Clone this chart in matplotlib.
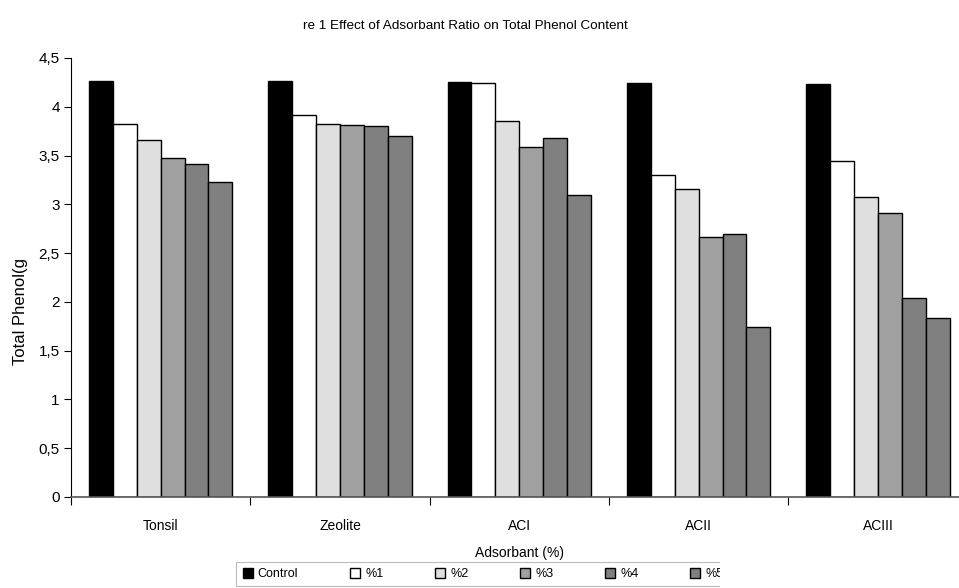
import numpy as np
import matplotlib.pyplot as plt
from matplotlib.patches import Rectangle

plt.rcParams['font.family'] = ['Liberation Sans', 'DejaVu Sans']

# Total phenol per adsorbent and adsorbent ratio
adsorbents = ['Tonsil', 'Zeolite', 'ACI', 'ACII', 'ACIII']
tick_labels = ['Tonsil', 'Zeolite', 'ACI', 'ACII', 'ACIII']
series_names = ['Control', '%1', '%2', '%3', '%4', '%5']
control = [4.26, 4.26, 4.25, 4.24, 4.23]
ratio_1 = [3.82, 3.92, 4.24, 3.30, 3.44]
ratio_2 = [3.66, 3.82, 3.85, 3.16, 3.08]
ratio_3 = [3.47, 3.81, 3.59, 2.67, 2.91]
ratio_4 = [3.41, 3.80, 3.68, 2.70, 2.04]
ratio_5 = [3.23, 3.70, 3.10, 1.74, 1.83]

series = [control, ratio_1, ratio_2, ratio_3, ratio_4, ratio_5]
colors = ['#000000', '#ffffff', '#dfdfdf', '#a0a0a0', '#808080', '#808080']

fig = plt.figure(figsize=(9.59, 5.88), dpi=100)
ax = fig.add_axes([0.074, 0.1548, 0.935, 0.7466])

x = np.arange(len(adsorbents))
width = 0.8 / len(series)
for i, (vals, col) in enumerate(zip(series, colors)):
    offs = (i - (len(series) - 1) / 2) * width
    ax.bar(x + offs, vals, width, color=col, edgecolor='black', linewidth=1.0,
           label=series_names[i], zorder=2)

ax.set_xlim(-0.5, len(adsorbents) - 0.5)
ax.set_ylim(0, 4.5)
ax.set_yticks(np.arange(0, 4.51, 0.5))
ax.set_yticklabels([f'{v:g}'.replace('.', ',') for v in np.arange(0, 4.51, 0.5)])
ax.set_xticks(np.arange(len(adsorbents) + 1) - 0.5)
ax.set_xticklabels([])
ax.set_xticks(x, minor=True)
ax.set_xticklabels(tick_labels, minor=True, fontsize=10)
ax.tick_params(axis='x', which='minor', length=0, pad=16)
ax.tick_params(axis='x', which='major', direction='out', length=6, width=0.8)
ax.tick_params(axis='y', direction='out', length=5, width=0.8, labelsize=11, pad=3)

for s in ['top', 'right']:
    ax.spines[s].set_visible(False)
ax.spines['left'].set_linewidth(0.8)
ax.spines['bottom'].set_color('#555555')
ax.spines['bottom'].set_linewidth(1.2)

ax.set_xlabel('Adsorbant (%)', fontsize=10, labelpad=9)
fig.text(0.021, 0.47, 'Total Phenol(g', rotation=90, fontsize=12,
         ha='center', va='center')

fig.text(0.485, 0.955, 're 1 Effect of Adsorbant Ratio on Total Phenol Content',
         fontsize=9.7, ha='center', va='center')

leg = fig.legend(loc='lower left', bbox_to_anchor=(0.24, -0.008), ncol=6,
                 fontsize=9, frameon=True, fancybox=False, edgecolor='#aaaaaa',
                 handlelength=0.8, handleheight=0.8, handletextpad=0.4,
                 columnspacing=4.15, borderpad=0.5)
leg.get_frame().set_linewidth(0.8)

# hide what lies beyond the chart area edges
fig.add_artist(Rectangle((0.751, 0.0), 0.3, 0.06, transform=fig.transFigure,
                         facecolor='white', edgecolor='none', zorder=10))
fig.add_artist(Rectangle((0.0, 0.583), 0.04, 0.4, transform=fig.transFigure,
                         facecolor='white', edgecolor='none', zorder=10))

fig.savefig('out.png', dpi=100)
